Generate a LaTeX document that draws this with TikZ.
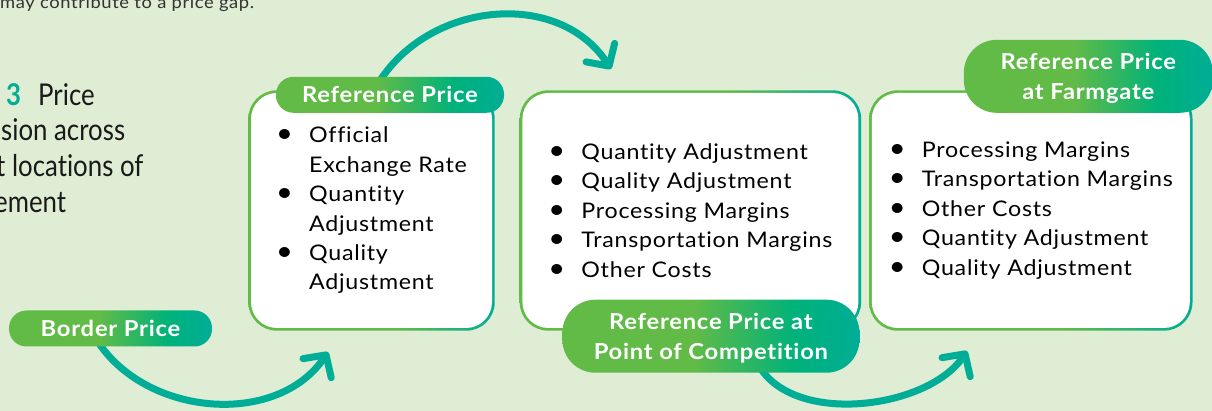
\documentclass[tikz,border=0pt]{standalone}
\usepackage{fontspec}
\setmainfont{Lato}[FakeStretch=1.08, LetterSpace=3.5, Ligatures={NoCommon,NoRare}]
\newfontfamily\titlefont[FakeStretch=0.86, Ligatures=NoCommon]{Lato}
\usepackage{xcolor}
\usepackage{tikz}
\usetikzlibrary{shapes,arrows.meta,positioning,calc,backgrounds}
\definecolor{leafgreen}{HTML}{62BB47}
\definecolor{jadegreen}{HTML}{00B27A}
\definecolor{tealgreen}{HTML}{00AD96}
\definecolor{palegreen}{HTML}{DEEDD4}

\pgfdeclarehorizontalshading{tagfill}{100bp}{color(0bp)=(leafgreen); color(25bp)=(leafgreen); color(47bp)=(leafgreen); color(64bp)=(jadegreen); color(75bp)=(tealgreen); color(100bp)=(tealgreen)}
\pgfdeclarehorizontalshading{rimfill}{100bp}{color(0bp)=(leafgreen); color(25bp)=(leafgreen); color(55bp)=(leafgreen); color(75bp)=(tealgreen); color(100bp)=(tealgreen)}

\newcommand\bul{\makebox[33pt][l]{\scalebox{1.25}{\textbullet}}}
\newcommand\indt{\hspace*{33pt}}

\begin{document}
\begin{tikzpicture}[
    x=1pt, y=1pt,
    listbox/.style={rectangle, fill=white, rounded corners=26pt, minimum height=235pt, inner sep=0pt, align=left, font=\fontsize{21.5}{29.4}\selectfont},
    tag/.style={rectangle, shade, shading=tagfill, rounded corners=17.5pt, minimum height=36pt, inner sep=0pt, align=center, text=white, font=\bfseries\fontsize{22}{30}\selectfont},
    bigtag/.style={tag, rounded corners=33pt, minimum height=73pt, text depth=0pt},
    rim/.style={shade, shading=rimfill, rounded corners=28.5pt},
    flow/.style={draw=tealgreen, line width=7pt, line cap=round, -{Straight Barb[length=16pt, width=34pt, round]}},
    title/.style={anchor=base west, inner sep=0pt, text=black!90, font=\titlefont\fontsize{30}{36}\selectfont}
]

\useasboundingbox (0,0) rectangle (1212,411);

% caption and figure title at the left edge
\node [anchor=base west, inner sep=0pt, font=\fontsize{17}{20}\selectfont, text=black!80] (capline) at (0,402) {may contribute to a price gap.};
\node [title] (fig1) at (6,305) {\makebox[32pt][l]{\textcolor{tealgreen}{\bfseries 3}}Price};
\node [title] (fig2) at (1,270) {sion across};
\node [title] (fig3) at (-4,234) {t locations of};
\node [title] (fig4) at (-6,198) {ement};

% the three lists
\node [listbox, minimum width=241pt] (box1) at (371.5,200.5) {\bul Official\\\indt Exchange Rate\\\bul Quantity\\\indt Adjustment\\\bul Quality\\\indt Adjustment};
\node [listbox, minimum width=336pt, right=30pt of box1] (box2) {\bul Quantity Adjustment\\\bul Quality Adjustment\\\bul Processing Margins\\\bul Transportation Margins\\\bul Other Costs};
\node [listbox, minimum width=318pt, right=13pt of box2] (box3) {\bul Processing Margins\\\bul Transportation Margins\\\bul Other Costs\\\bul Quantity Adjustment\\\bul Quality Adjustment};

% price labels
\node [tag, minimum width=228pt] (refTag) at ([xshift=18.5pt,yshift=-2pt]box1.north) {Reference Price};
\node [tag, minimum width=203pt] (borderTag) at (110.5,82.5) {Border Price};
\node [bigtag, minimum width=297pt] (pocTag) at ([xshift=20.5pt,yshift=-8pt]box2.south) {Reference Price at\\Point of Competition};
\node [bigtag, minimum width=249pt] (farmTag) at ([xshift=57.5pt,yshift=16.5pt]box3.north) {Reference Price\\at Farmgate};

\coordinate (intoRef) at (328,59);
\coordinate (intoPoc) at (611,342);
\coordinate (intoFarm) at (967,60);

\begin{scope}[on background layer]
  \fill [palegreen] (0,0) rectangle (1212,411);
  \foreach \b in {box1,box2,box3}
    \path [rim] ([shift={(-2.5pt,-2.5pt)}]\b.south west) rectangle ([shift={(2.5pt,2.5pt)}]\b.north east);
  \draw [flow] ([xshift=-12pt,yshift=4pt]borderTag.south) to[out=-56, in=-124] (intoRef);
  \draw [flow] ([xshift=-10pt,yshift=-4pt]refTag.north) to[out=57, in=123, looseness=1.05] (intoPoc);
  \draw [flow] ([xshift=50pt,yshift=4pt]pocTag.south) to[out=-56, in=-124, looseness=0.85] (intoFarm);
\end{scope}

\end{tikzpicture}
\end{document}
